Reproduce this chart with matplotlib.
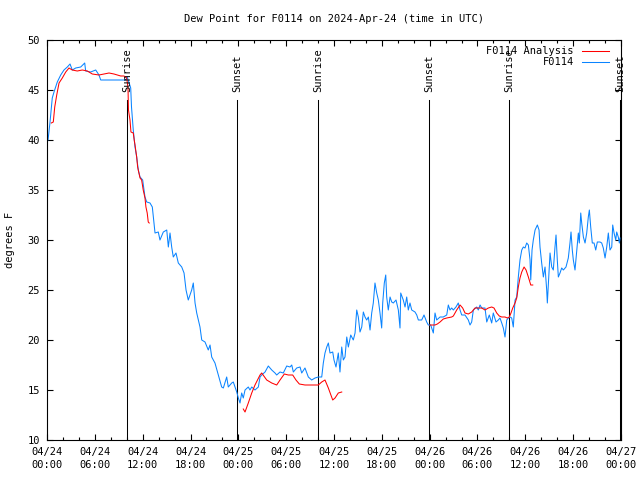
import numpy as np
import matplotlib
matplotlib.use('Agg')
import matplotlib.pyplot as plt
import matplotlib.transforms as mtransforms
from matplotlib.ticker import MultipleLocator

plt.rcParams['font.family'] = ['DejaVu Sans Mono']
plt.rcParams['font.size'] = 7.5

# hours since 2024-04-24 00:00 UTC
obs_hours = [0.13, 0.38, 0.66, 0.88, 1.29, 1.72, 2.13, 2.55, 2.89, 3.17, 3.6, 4.23, 4.73, 4.85,
             5.48, 6.11, 6.52, 6.74, 8.4, 9.87, 10.07, 10.5, 10.6, 10.82, 11.04, 11.25, 11.45,
             11.67, 12.0, 12.29, 12.51, 12.92, 13.21, 13.55, 13.96, 14.17, 14.59, 15.02, 15.22,
             15.43, 15.64, 15.84, 16.18, 16.47, 16.9, 17.19, 17.44, 17.72, 18.15, 18.35, 18.57,
             18.78, 19.19, 19.41, 19.82, 20.23, 20.45, 20.66, 21.07, 21.49, 21.91, 22.12, 22.54,
             22.74, 23.17, 23.37, 23.8, 24.0, 24.21, 24.42, 24.62, 24.84, 25.25, 25.46, 25.68,
             26.09, 26.51, 26.72, 26.93, 27.35, 27.76, 28.19, 28.6, 28.81, 29.23, 29.64, 30.07,
             30.48, 30.7, 30.9, 31.32, 31.74, 31.95, 32.36, 32.78, 33.2, 33.62, 34.03, 34.46,
             34.66, 34.87, 35.09, 35.29, 35.5, 35.84, 36.0, 36.25, 36.54, 36.75, 36.97, 37.17,
             37.38, 37.6, 37.8, 38.1, 38.42, 38.64, 38.85, 39.05, 39.26, 39.48, 39.68, 39.89,
             40.1, 40.31, 40.52, 40.73, 40.93, 41.14, 41.36, 41.56, 41.77, 41.98, 42.11, 42.31,
             42.49, 42.61, 42.81, 43.03, 43.24, 43.44, 43.78, 44.07, 44.28, 44.37, 44.69, 44.91,
             45.12, 45.32, 45.53, 45.75, 46.16, 46.38, 46.58, 47.0, 47.29, 47.63, 47.83, 48.13,
             48.46, 48.67, 48.88, 49.3, 49.71, 50.14, 50.34, 50.55, 50.76, 50.97, 51.3, 51.59,
             51.81, 52.02, 52.43, 52.85, 53.06, 53.27, 53.48, 53.9, 54.1, 54.32, 54.53, 54.94,
             55.16, 55.48, 55.78, 55.98, 56.32, 56.61, 56.82, 57.04, 57.24, 57.45, 57.67, 57.87,
             58.08, 58.29, 58.49, 58.71, 58.92, 59.12, 59.33, 59.55, 59.75, 59.96, 60.17, 60.38,
             60.59, 60.68, 60.84, 61.0, 61.22, 61.51, 61.72, 61.84, 62.05, 62.26, 62.47, 62.68,
             62.76, 62.93, 63.1, 63.31, 63.51, 63.72, 63.85, 64.01, 64.14, 64.35, 64.56, 64.77,
             65.1, 65.39, 65.6, 65.73, 65.89, 66.02, 66.23, 66.45, 66.65, 66.77, 66.95, 67.07,
             67.28, 67.49, 67.7, 67.9, 68.03, 68.2, 68.4, 68.62, 68.83, 69.03, 69.37, 69.58,
             69.78, 70.0, 70.21, 70.41, 70.62, 70.84, 70.96, 71.13, 71.34, 71.46, 71.66, 71.79,
             71.88]
obs_dewpt = [40.0, 41.8, 44.2, 44.8, 45.8, 46.5, 47.0, 47.3, 47.6, 47.0, 47.2, 47.3, 47.7, 46.9,
             46.8, 47.0, 46.5, 46.0, 46.0, 46.0, 46.3, 45.2, 43.3, 41.0, 39.3, 38.3, 37.0,
             36.3, 36.0, 34.3, 33.8, 33.7, 33.3, 30.7, 30.8, 30.0, 30.8, 31.0, 29.3,
             30.7, 29.3, 28.3, 28.7, 27.7, 27.3, 26.7, 25.0, 24.0, 25.0, 25.7, 23.7,
             22.7, 21.3, 20.0, 19.8, 19.0, 19.5, 18.3, 17.7, 16.5, 15.3, 15.2, 16.3,
             15.3, 15.7, 15.8, 14.8, 14.2, 13.7, 14.7, 14.2, 15.0, 15.3, 15.0, 15.3,
             15.0, 15.3, 16.3, 16.5, 16.8, 17.4, 17.0, 16.7, 16.5, 16.8, 16.7, 17.4,
             17.3, 17.5, 16.8, 17.2, 17.3, 16.7, 17.2, 16.3, 16.0, 16.2, 16.3, 16.3,
             17.7, 18.7, 19.3, 19.7, 18.7, 18.8, 18.0, 17.3, 18.7, 16.8, 19.3, 18.0,
             18.3, 20.3, 19.3, 20.5, 20.0, 20.7, 23.0, 22.3, 20.8, 21.3, 22.8, 22.3,
             22.0, 22.3, 21.0, 22.7, 23.7, 25.7, 24.7, 24.0, 22.7, 21.2, 23.7, 25.7,
             26.5, 24.3, 23.0, 24.3, 23.8, 23.7, 24.0, 23.0, 21.2, 24.7, 24.0, 23.3,
             24.3, 23.0, 23.7, 23.0, 22.8, 22.5, 22.0, 22.0, 22.5, 21.8, 21.5, 21.5,
             20.7, 22.7, 22.0, 22.3, 22.3, 22.5, 23.5, 23.0, 23.2, 23.0, 23.3, 23.7,
             23.0, 22.5, 22.5, 22.0, 21.5, 21.8, 23.0, 23.3, 23.0, 23.5, 23.2, 23.2,
             21.8, 22.5, 21.7, 22.7, 21.8, 22.0, 22.2, 21.7, 21.2, 20.3, 22.0, 22.2,
             22.3, 22.2, 21.3, 24.0, 24.3, 26.3, 28.0, 29.0, 29.3, 29.2, 29.7, 29.5,
             28.0, 26.0, 29.0, 30.0, 31.0, 31.5, 31.0, 29.3, 27.7, 26.3, 27.3, 25.0,
             23.7, 26.3, 28.7, 27.3, 27.0, 29.3, 30.5, 28.0, 26.3, 26.7, 27.2, 27.0,
             27.3, 28.2, 29.7, 30.8, 29.0, 28.0, 27.0, 29.0, 30.7, 29.7, 32.7, 31.7,
             30.3, 29.7, 30.7, 32.3, 33.0, 31.3, 29.7, 29.7, 29.0, 29.8, 29.8, 29.7,
             29.2, 28.2, 29.3, 30.7, 29.0, 29.3, 31.5, 30.7, 30.0, 30.8, 30.3, 29.7,
             30.2]

# analysis series, NaN marks gaps
ana_hours = [0.54, 0.79, 0.97, 1.22, 1.51, 1.92, 2.35, 2.76, 3.17, 3.8, 4.43, 5.06, 5.68, 6.52,
             7.15, 7.78, 8.4, 9.25, 9.66, 10.0, 10.16, 10.22, 10.41, 10.53, 10.82, 10.94, 11.04,
             11.25, 11.37, 11.53, 11.67, 11.87, 12.07, 12.29, 12.41, 12.57, 12.7, 12.82,
             18.0,
             24.62, 24.84, 25.25, 25.68, 26.09, 26.72, 26.93, 27.56, 28.19, 28.81, 29.23, 29.77,
             30.27, 30.82, 31.23, 31.65, 32.36, 33.2, 34.03, 34.46, 34.87, 35.29, 35.84, 36.13,
             36.54, 36.97,
             42.0,
             48.04, 48.67, 48.96, 49.3, 49.71, 50.14, 50.76, 50.97, 51.39, 51.81, 52.14, 52.43,
             52.85, 53.27, 53.69, 54.1, 54.53, 54.94, 55.36, 55.78, 56.07, 56.41, 56.73, 57.04,
             57.45, 57.74, 57.99, 58.2, 58.42, 58.71, 58.92, 59.12, 59.33, 59.55, 59.84, 60.09,
             60.38, 60.68, 60.93]
ana_dewpt = [41.7, 41.8, 43.3, 44.5, 45.7, 46.2, 46.8, 47.2, 47.0, 46.9, 47.0, 46.9, 46.6, 46.5,
             46.6, 46.7, 46.6, 46.4, 46.4, 46.2, 45.2, 43.0, 42.0, 40.8, 40.7, 40.0, 39.5,
             38.3, 37.3, 36.7, 36.2, 36.0, 35.0, 34.2, 33.3, 32.7, 31.8, 31.7,
             np.nan,
             13.1, 12.8, 13.7, 14.7, 15.5, 16.5, 16.7, 16.0, 15.7, 15.5, 16.0, 16.6,
             16.5, 16.5, 16.0, 15.6, 15.5, 15.5, 15.5, 15.8, 16.0, 15.2, 14.0, 14.2,
             14.7, 14.8,
             np.nan,
             21.5, 21.5, 21.6, 21.8, 22.1, 22.2, 22.3, 22.4, 23.0, 23.5, 23.2, 22.7,
             22.6, 22.8, 23.2, 23.2, 23.2, 23.0, 23.2, 23.3, 23.2, 22.7, 22.4, 22.3,
             22.3, 22.2, 22.3, 22.7, 23.2, 23.7, 24.2, 25.3, 26.2, 26.8, 27.3, 27.0,
             26.3, 25.5, 25.5]

sun_hours = [10.03, 23.83, 34.0, 47.9, 57.97, 71.9]
sun_labels = ['Sunrise', 'Sunset', 'Sunrise', 'Sunset', 'Sunrise', 'Sunset']

tick_hours = list(range(0, 73, 6))
tick_labels = ['04/24\n00:00', '04/24\n06:00', '04/24\n12:00', '04/24\n18:00',
               '04/25\n00:00', '04/25\n06:00', '04/25\n12:00', '04/25\n18:00',
               '04/26\n00:00', '04/26\n06:00', '04/26\n12:00', '04/26\n18:00',
               '04/27\n00:00']

fig = plt.figure(figsize=(6.4, 4.8), dpi=100)
ax = fig.add_axes([47 / 640, 40 / 480, 574 / 640, 400 / 480])

lw = 0.75
red_line, = ax.plot(ana_hours, ana_dewpt, color='#ff0000', lw=lw, zorder=3)
blue_line, = ax.plot(obs_hours, obs_dewpt, color='#0a84ff', lw=lw, zorder=2)

trans = mtransforms.blended_transform_factory(ax.transData, ax.transAxes)
for h, lab in zip(sun_hours, sun_labels):
    ax.plot([h, h], [0, 0.85], color='black', lw=lw, transform=trans, zorder=1)
    ax.text(h, 0.87, lab, rotation=90, ha='center', va='bottom', transform=trans)

ax.set_xlim(0, 72)
ax.set_ylim(10, 50)
ax.set_xticks(tick_hours)
ax.set_xticklabels(tick_labels, linespacing=1.35)
ax.xaxis.set_minor_locator(MultipleLocator(2))
ax.yaxis.set_major_locator(MultipleLocator(5))
ax.tick_params(which='both', direction='in', top=True, right=True, width=0.8)
ax.tick_params(which='major', length=4, pad=5)
ax.tick_params(which='minor', length=2.5)
for s in ax.spines.values():
    s.set_linewidth(0.8)

ax.set_title('Dew Point for F0114 on 2024-Apr-24 (time in UTC)', fontsize=7.5, pad=13)
ax.set_ylabel('degrees F', fontsize=7.5)
ax.yaxis.set_label_coords(-0.056, 0.5)

# key, gnuplot style: right-justified text, sample line after it
for row, (line, name) in enumerate([(red_line, 'F0114 Analysis'), (blue_line, 'F0114')]):
    yk = 0.973 - row * 0.029
    ax.text(0.918, yk, name, ha='right', va='center', transform=ax.transAxes)
    ax.plot([0.932, 0.979], [yk, yk], color=line.get_color(), lw=lw, transform=ax.transAxes)

fig.savefig('out.png', dpi=100)
